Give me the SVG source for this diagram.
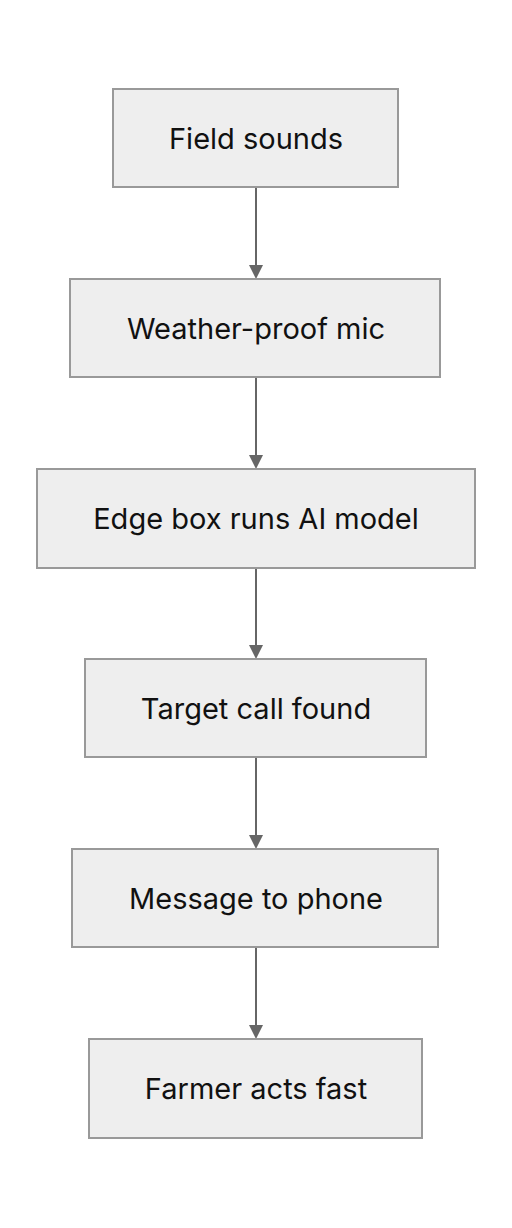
<svg xmlns="http://www.w3.org/2000/svg" width="512" height="1228" viewBox="0 0 512 1228">
<style>
.box{fill:#eeeeee;stroke:#999999;stroke-width:2}
.lbl{font-family:Inter,"Liberation Sans",sans-serif;font-size:29px;fill:#111111;text-anchor:middle;dominant-baseline:central}
.edge{stroke:#666666;stroke-width:2;fill:none}
.head{fill:#666666}
</style>
<rect width="512" height="1228" fill="#ffffff"/>
<g id="connectors">
<line class="edge" x1="256" y1="188" x2="256" y2="268"/>
<path class="head" d="M249,265 L263,265 L256,279 Z"/>
<line class="edge" x1="256" y1="378" x2="256" y2="458"/>
<path class="head" d="M249,455 L263,455 L256,469 Z"/>
<line class="edge" x1="256" y1="568" x2="256" y2="648"/>
<path class="head" d="M249,645 L263,645 L256,659 Z"/>
<line class="edge" x1="256" y1="758" x2="256" y2="838"/>
<path class="head" d="M249,835 L263,835 L256,849 Z"/>
<line class="edge" x1="256" y1="948" x2="256" y2="1028"/>
<path class="head" d="M249,1025 L263,1025 L256,1039 Z"/>
</g>
<g id="n1"><rect class="box" x="113" y="89" width="285" height="98"/><text class="lbl" x="256" y="138">Field sounds</text></g>
<g id="n2"><rect class="box" x="70" y="279" width="370" height="98"/><text class="lbl" x="256" y="328">Weather-proof mic</text></g>
<g id="n3"><rect class="box" x="37" y="469" width="438" height="99"/><text class="lbl" x="256" y="518">Edge box runs AI model</text></g>
<g id="n4"><rect class="box" x="85" y="659" width="341" height="98"/><text class="lbl" x="256" y="708">Target call found</text></g>
<g id="n5"><rect class="box" x="72" y="849" width="366" height="98"/><text class="lbl" x="256" y="898">Message to phone</text></g>
<g id="n6"><rect class="box" x="89" y="1039" width="333" height="99"/><text class="lbl" x="256" y="1088">Farmer acts fast</text></g>
</svg>
